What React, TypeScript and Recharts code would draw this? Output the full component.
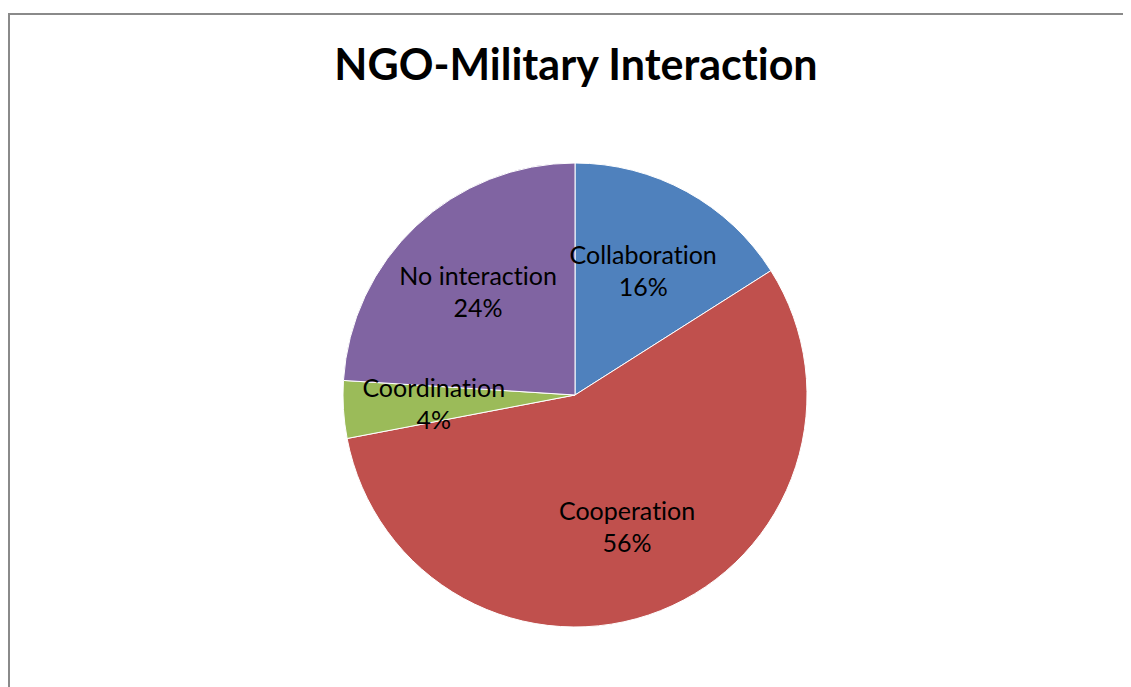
import React from 'react';
import { PieChart, Pie, Cell } from 'recharts';

const CATEGORIES = ['Collaboration', 'Cooperation', 'Coordination', 'No interaction'];
const SHARES = [16, 56, 4, 24];
const COLORS = ['#4F81BD', '#C0504D', '#9BBB59', '#8064A2'];

const data = CATEGORIES.map((name, i) => ({ name, value: SHARES[i] }));

const RAD = Math.PI / 180;

const renderLabel = (props: any) => {
  const { cx, cy, midAngle, outerRadius, percent, name } = props;
  const r = outerRadius * 0.61;
  const x = cx + r * Math.cos(-midAngle * RAD);
  const y = cy + r * Math.sin(-midAngle * RAD);
  return (
    <text
      x={x}
      y={y}
      textAnchor="middle"
      fill="#000"
      fontFamily="Lato, sans-serif"
      fontSize={25}
      style={{ fontVariantLigatures: 'none' }}
    >
      <tspan x={x} dy={-7}>{name}</tspan>
      <tspan x={x} dy={32}>{`${Math.round(percent * 100)}%`}</tspan>
    </text>
  );
};

export default function App() {
  return (
    <div
      style={{
        width: 1121,
        height: 672,
        marginTop: 5,
        borderTop: '2px solid #8a8a8a',
        borderLeft: '2px solid #8a8a8a',
        background: '#fff',
      }}
    >
      <PieChart width={1121} height={672}>
        <text
          x={566}
          y={65}
          textAnchor="middle"
          fontFamily="Lato, sans-serif"
          fontWeight="bold"
          fontSize={43}
          fill="#000"
          style={{ fontVariantLigatures: 'none' }}
        >
          NGO-Military Interaction
        </text>
        <Pie
          data={data}
          dataKey="value"
          nameKey="name"
          cx={560}
          cy={375}
          outerRadius={232}
          startAngle={90}
          endAngle={-270}
          stroke="#fff"
          strokeWidth={1}
          labelLine={false}
          label={renderLabel}
          isAnimationActive={false}
        >
          {data.map((d, i) => (
            <Cell key={d.name} fill={COLORS[i]} />
          ))}
        </Pie>
      </PieChart>
    </div>
  );
}
